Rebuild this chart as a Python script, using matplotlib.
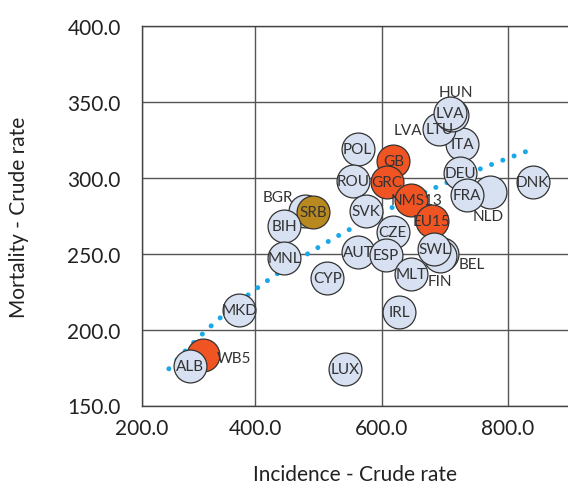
import numpy as np
import matplotlib
matplotlib.use('Agg')
import matplotlib.pyplot as plt

plt.rcParams['font.family'] = ['Lato', 'DejaVu Sans']

# countries / aggregates, listed in drawing order (later ones on top)
names = ['BGR', 'SRB', 'BIH', 'MNL', 'CYP', 'POL', 'ROU', 'SVK', 'AUT', 'CZE',
         'ESP', 'MLT', 'IRL', 'GB', 'GRC', 'NMS13', 'EU15', 'BEL', 'FIN', 'SWL',
         'NLD', 'ITA', 'DEU', 'FRA', 'LTU', 'HUN', 'LVA', 'DNK', 'MKD', 'WB5',
         'ALB', 'LUX']
incidence = [478.7, 491.9, 445.5, 445.5, 514.1, 561.9, 555.2, 574.9, 562.2, 617.6,
             606.6, 646.2, 628.1, 618.6, 608.1, 646.2, 679.4, 695.3, 692.6, 683.1,
             771.8, 727.9, 724.3, 734.9, 691.5, 711.6, 708.4, 838.8, 374.2, 317.6,
             296.6, 542.1]
mortality = [278.5, 277.8, 268.2, 247.2, 234.0, 319.1, 297.8, 278.5, 251.1, 264.3,
             249.5, 236.8, 211.6, 311.4, 297.2, 285.5, 271.9, 250.0, 248.7, 253.3,
             290.6, 322.4, 303.1, 288.8, 332.2, 341.4, 342.6, 297.2, 213.2, 183.1,
             176.1, 174.3]
highlight = ['GB', 'GRC', 'NMS13', 'EU15', 'WB5']
focus = ['SRB']

# logarithmic trend (y = a + b*ln x), coefficients
trend_a = -521.2
trend_b = 124.8
trend_range = [263, 830]

xtick_vals = [220, 400, 600, 800]
xtick_labels = ['200.0', '400.0', '600.0', '800.0']
ytick_vals = [150, 200, 250, 300, 350, 400]

# label offsets in pixels for labels placed outside their bubble
label_off = {'BGR': (-27, 14), 'HUN': (4, 23), 'BEL': (30, -10), 'FIN': (0, -25),
             'NLD': (-2, -24), 'WB5': (31, -3), 'NMS13': (6, 0)}

fig = plt.figure(figsize=(5.68, 4.89), dpi=100)
ax = fig.add_axes([141.7 / 568, 1 - 406.5 / 489, (568 - 141.7) / 568, (406.5 - 27.3) / 489])

ax.set_xlim(220, 895)
ax.set_ylim(150, 400)

tx = np.linspace(trend_range[0], trend_range[1], 200)
ax.plot(tx, trend_a + trend_b * np.log(tx), color='#1aa9e8', lw=3.6, dashes=(0.01, 2.4),
        dash_capstyle='round', zorder=2)

for i, n in enumerate(names):
    if n in highlight:
        fc = '#f05423'
    elif n in focus:
        fc = '#b8891e'
    else:
        fc = '#d8e1f1'
    ax.scatter(incidence[i], mortality[i], s=560, c=fc, edgecolors='#333333',
               linewidths=0.9, zorder=3 + i * 0.01)

for i, n in enumerate(names):
    dx, dy = label_off.get(n, (0, 0))
    ax.annotate(n, (incidence[i], mortality[i]), xytext=(dx, dy), textcoords='offset pixels',
                ha='center', va='center', fontsize=11, color='#333333', zorder=5)
# second LVA label next to LTU
ax.annotate('LVA', (691.5, 332.2), xytext=(-32, -1), textcoords='offset pixels',
            ha='center', va='center', fontsize=11, color='#333333', zorder=5)

ax.set_xticks(xtick_vals)
ax.set_xticklabels(xtick_labels)
ax.set_yticks(ytick_vals)
ax.set_yticklabels(['%.1f' % v for v in ytick_vals])
ax.tick_params(length=0, labelsize=15, colors='#222222', pad=9)
ax.tick_params(axis='y', pad=15)
ax.grid(True, color='#555555', lw=1.0)
ax.set_axisbelow(True)
ax.spines['right'].set_visible(False)
for s in ['left', 'bottom', 'top']:
    ax.spines[s].set_color('#444444')
    ax.spines[s].set_linewidth(1.0)

ax.set_xlabel('Incidence - Crude rate', fontsize=15, color='#222222', labelpad=19)
ax.set_ylabel('Mortality - Crude rate', fontsize=15, color='#222222', labelpad=28)

fig.savefig('out.png', dpi=100)
